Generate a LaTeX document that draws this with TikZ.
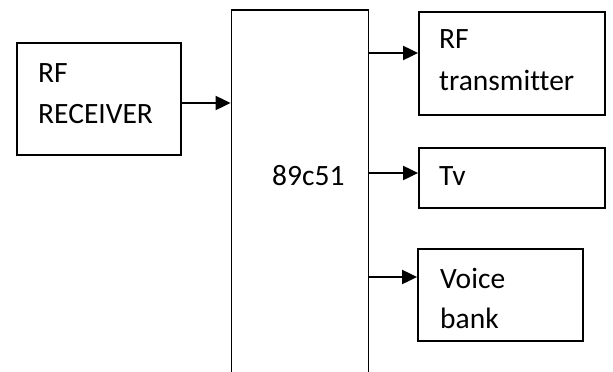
\documentclass[tikz,border=0pt]{standalone}
\usepackage{fontspec}
\setmainfont{Carlito}[Ligatures=NoCommon]
\usetikzlibrary{arrows.meta}
\begin{document}
\begin{tikzpicture}[x=1pt,y=-1pt,
  blk/.style={draw=black,line width=1.8pt,rectangle,inner sep=0pt},
  lbl/.style={anchor=base west,inner sep=0pt,font=\fontsize{29.5}{41}\selectfont},
  arr/.style={draw=black,line width=2pt,-{Triangle[length=15pt,width=14pt]}}]
\useasboundingbox (0,0) rectangle (613,372);
\clip (0,0) rectangle (613,372);
% boxes
\node[blk,minimum width=164pt,minimum height=112pt] (rx) at (99,99) {};
\node[blk,minimum width=137pt,minimum height=400pt] (mcu) at (300,210) {};
\node[blk,minimum width=186pt,minimum height=103pt] (tx) at (512,63.5) {};
\node[blk,minimum width=186pt,minimum height=60pt] (tv) at (512,178) {};
\node[blk,minimum width=165pt,minimum height=92pt] (vb) at (500.5,295) {};
% labels
\node[lbl] (rx1) at (38,82) {RF};
\node[lbl] (rx2) at (38,123) {RECEIVER};
\node[lbl] (mcut) at (272,185) {89c51};
\node[lbl] (tx1) at (439,48) {RF};
\node[lbl] (tx2) at (439,90) {transmit{}ter};
\node[lbl] (tvt) at (439,185) {Tv};
\node[lbl] (vb1) at (440,288) {Voice};
\node[lbl] (vb2) at (440,328) {bank};
% arrow levels
\coordinate (a0) at (0,103);
\coordinate (a1) at (0,53);
\coordinate (a2) at (0,173);
\coordinate (a3) at (0,277);
\draw[arr] (rx.east |- a0) -- (mcu.west |- a0);
\draw[arr] (mcu.east |- a1) -- (tx.west |- a1);
\draw[arr] (mcu.east |- a2) -- (tv.west |- a2);
\draw[arr] (mcu.east |- a3) -- (vb.west |- a3);
\end{tikzpicture}
\end{document}
